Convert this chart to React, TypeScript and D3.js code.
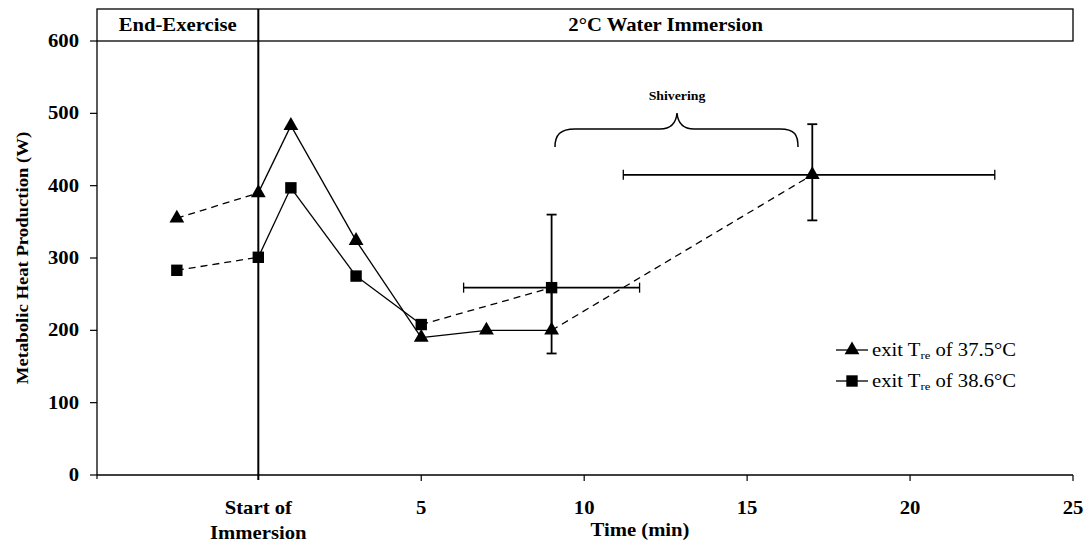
import * as d3 from "d3";

// triangle series: exit Tre of 37.5°C
const timesA = [-2.5, 0, 1, 3, 5, 7, 9, 17];
const heatA = [355, 390, 483, 324, 190, 200, 200, 415];
// square series: exit Tre of 38.6°C
const timesB = [-2.5, 0, 1, 3, 5, 9];
const heatB = [283, 301, 397, 275, 208, 259];

// which consecutive segments are dashed (index of the first point)
const dashedA = [0, 6];
const dashedB = [0, 4];

// horizontal error bars (time spread)
const xErrT = [9, 17];
const xErrV = [259, 415];
const xErrLo = [6.3, 11.2];
const xErrHi = [11.7, 22.6];

// vertical error bars
const yErrT = [9, 9, 17];
const yErrLo = [200, 168, 352];
const yErrHi = [360, 259, 485];
const yErrCapLo = [false, true, true];

const yTicks = [0, 100, 200, 300, 400, 500, 600];
const xTicks = [5, 10, 15, 20, 25];

const W = 1089;
const H = 547;
const FONT = "Liberation Serif, Times New Roman, DejaVu Serif, serif";

export default function App() {
  const x = d3.scaleLinear().domain([-4.95, 25]).range([97, 1073]);
  const y = d3.scaleLinear().domain([0, 600]).range([475, 41]);

  const pts = (ts: number[], vs: number[]) => ts.map((t, i) => [x(t), y(vs[i])] as [number, number]);
  const pa = pts(timesA, heatA);
  const pb = pts(timesB, heatB);

  const segs = (p: [number, number][], dashed: number[]) =>
    p.slice(0, -1).map((d, i) => (
      <line key={i} x1={d[0]} y1={d[1]} x2={p[i + 1][0]} y2={p[i + 1][1]}
        stroke="#000" strokeWidth={1.3} strokeDasharray={dashed.includes(i) ? "7,5" : undefined} />
    ));

  const tri = d3.symbol().type(d3.symbolTriangle).size(95)();
  const sq = d3.symbol().type(d3.symbolSquare).size(130)();

  const x0 = x(0);
  const brace = `M${555},${147} C${555},${135} ${560},${129} ${575},${129} L${660},${129} C${670},${129} ${676},${124} ${677},${113} C${678},${124} ${684},${129} ${694},${129} L${780},${129} C${795},${129} ${798},${135} ${798},${147}`;

  const sx = 1.15; // the scan is a little wider than a normal serif face

  const T = (props: { x: number; y: number; anchor?: string; size?: number; bold?: boolean; children: React.ReactNode }) => (
    <text transform={`translate(${props.x},${props.y}) scale(${sx},1)`} textAnchor={props.anchor ?? "middle"}
      fontWeight={props.bold === false ? "normal" : "bold"} fontSize={props.size ?? 17}>
      {props.children}
    </text>
  );

  return (
    <svg width={W} height={H} style={{ position: "absolute", left: 0, top: 0, background: "#fff", fontFamily: FONT }}>
      {/* header box */}
      <rect x={97} y={9} width={1073 - 97} height={32} fill="none" stroke="#000" strokeWidth={1.3} />
      <T x={(97 + x0) / 2} y={31} size={18}>End-Exercise</T>
      <T x={(x0 + 1073) / 2} y={31} size={18}>2°C Water Immersion</T>

      {/* y axis */}
      <line x1={97} y1={41} x2={97} y2={y(0)} stroke="#000" strokeWidth={1.3} />
      {yTicks.map(t => (
        <g key={t}>
          <line x1={90} x2={97} y1={y(t)} y2={y(t)} stroke="#000" strokeWidth={1.2} />
          <T x={79} y={y(t) + 6} anchor="end" size={18}>{t}</T>
        </g>
      ))}
      <text transform={`translate(28,${(41 + 475) / 2}) rotate(-90) scale(1.1,1)`} textAnchor="middle" fontWeight="bold" fontSize={17}>
        Metabolic Heat Production (W)
      </text>

      {/* x axis */}
      <line x1={97} y1={y(0)} x2={1073} y2={y(0)} stroke="#000" strokeWidth={1.3} />
      {xTicks.map(t => (
        <g key={t}>
          <line x1={x(t)} x2={x(t)} y1={y(0)} y2={y(0) + 6} stroke="#000" strokeWidth={1.2} />
          <T x={x(t)} y={514} size={18}>{t}</T>
        </g>
      ))}
      <line x1={97} x2={97} y1={y(0)} y2={y(0) + 4} stroke="#000" strokeWidth={1.2} />
      <T x={x0} y={514} size={18}>Start of</T>
      <T x={x0} y={539} size={18}>Immersion</T>
      <T x={640} y={536} size={18}>Time (min)</T>

      {/* start of immersion line */}
      <line x1={x0} x2={x0} y1={9} y2={y(0) + 5} stroke="#000" strokeWidth={2} />

      {/* series lines */}
      {segs(pa, dashedA)}
      {segs(pb, dashedB)}

      {/* error bars */}
      {xErrT.map((t, i) => (
        <g key={"xe" + i} stroke="#000" strokeWidth={1.8}>
          <line x1={x(xErrLo[i])} x2={x(xErrHi[i])} y1={y(xErrV[i])} y2={y(xErrV[i])} />
          <line x1={x(xErrLo[i])} x2={x(xErrLo[i])} y1={y(xErrV[i]) - 5} y2={y(xErrV[i]) + 5} strokeWidth={1.3} />
          <line x1={x(xErrHi[i])} x2={x(xErrHi[i])} y1={y(xErrV[i]) - 5} y2={y(xErrV[i]) + 5} strokeWidth={1.3} />
        </g>
      ))}
      {yErrT.map((t, i) => (
        <g key={"ye" + i} stroke="#000" strokeWidth={1.8}>
          <line x1={x(t)} x2={x(t)} y1={y(yErrLo[i])} y2={y(yErrHi[i])} />
          <line x1={x(t) - 5} x2={x(t) + 5} y1={y(yErrHi[i])} y2={y(yErrHi[i])} />
          {yErrCapLo[i] && <line x1={x(t) - 5} x2={x(t) + 5} y1={y(yErrLo[i])} y2={y(yErrLo[i])} />}
        </g>
      ))}

      {/* markers */}
      {pa.map((d, i) => <path key={"a" + i} d={tri!} transform={`translate(${d[0]},${d[1]})`} fill="#000" />)}
      {pb.map((d, i) => <path key={"b" + i} d={sq!} transform={`translate(${d[0]},${d[1]})`} fill="#000" />)}

      {/* shivering brace */}
      <path d={brace} fill="none" stroke="#000" strokeWidth={1.5} />
      <T x={677} y={100} size={12}>Shivering</T>

      {/* legend */}
      {[0, 1].map(i => (
        <g key={"lg" + i} transform={`translate(0,${350 + i * 31})`}>
          <line x1={836} x2={868} y1={0} y2={0} stroke="#000" strokeWidth={1.3} />
          <path d={i === 0 ? tri! : sq!} transform="translate(852,0)" fill="#000" />
          <text transform={`translate(872,6) scale(${sx},1)`} fontSize={18}>
            exit T<tspan fontSize={11} dy={3}>re</tspan><tspan dy={-3}> of {i === 0 ? "37.5" : "38.6"}°C</tspan>
          </text>
        </g>
      ))}
    </svg>
  );
}
